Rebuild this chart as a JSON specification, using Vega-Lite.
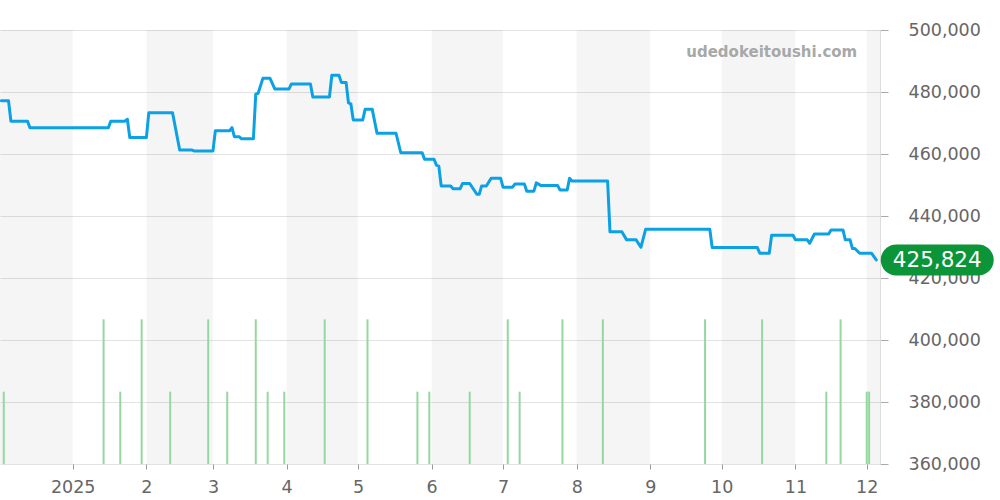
{
  "$schema": "https://vega.github.io/schema/vega-lite/v6.json",
  "width": 880,
  "height": 434,
  "autosize": {"type": "none"},
  "padding": {"left": 0, "top": 30, "right": 120, "bottom": 36},
  "background": "white",
  "config": {"view": {"stroke": null}, "font": "DejaVu Sans"},
  "datasets": {
    "bands": [
      {"start": "2024-11-01", "end": "2025-01-01"},
      {"start": "2025-02-01", "end": "2025-03-01"},
      {"start": "2025-04-01", "end": "2025-05-01"},
      {"start": "2025-06-01", "end": "2025-07-01"},
      {"start": "2025-08-01", "end": "2025-09-01"},
      {"start": "2025-10-01", "end": "2025-11-01"},
      {"start": "2025-12-01", "end": "2026-01-01"}
    ],
    "volume": [
      {"date": "2024-12-03", "vol": 1},
      {"date": "2025-01-14", "vol": 2},
      {"date": "2025-01-21", "vol": 1},
      {"date": "2025-01-30", "vol": 2},
      {"date": "2025-02-11", "vol": 1},
      {"date": "2025-02-27", "vol": 2},
      {"date": "2025-03-07", "vol": 1},
      {"date": "2025-03-19", "vol": 2},
      {"date": "2025-03-24", "vol": 1},
      {"date": "2025-03-31", "vol": 1},
      {"date": "2025-04-17", "vol": 2},
      {"date": "2025-05-05", "vol": 2},
      {"date": "2025-05-26", "vol": 1},
      {"date": "2025-05-31", "vol": 1},
      {"date": "2025-06-17", "vol": 1},
      {"date": "2025-07-03", "vol": 2},
      {"date": "2025-07-08", "vol": 1},
      {"date": "2025-07-26", "vol": 2},
      {"date": "2025-08-12", "vol": 2},
      {"date": "2025-09-24", "vol": 2},
      {"date": "2025-10-18", "vol": 2},
      {"date": "2025-11-14", "vol": 1},
      {"date": "2025-11-20", "vol": 2},
      {"date": "2025-12-01", "vol": 1},
      {"date": "2025-12-02", "vol": 1}
    ],
    "price": [
      {"date": "2024-12-02", "price": 477200},
      {"date": "2024-12-05", "price": 477200},
      {"date": "2024-12-06", "price": 470600},
      {"date": "2024-12-13", "price": 470600},
      {"date": "2024-12-14", "price": 468500},
      {"date": "2025-01-16", "price": 468500},
      {"date": "2025-01-17", "price": 470600},
      {"date": "2025-01-23", "price": 470600},
      {"date": "2025-01-24", "price": 471200},
      {"date": "2025-01-25", "price": 465300},
      {"date": "2025-02-01", "price": 465300},
      {"date": "2025-02-02", "price": 473300},
      {"date": "2025-02-12", "price": 473300},
      {"date": "2025-02-15", "price": 461300},
      {"date": "2025-02-20", "price": 461300},
      {"date": "2025-02-21", "price": 461000},
      {"date": "2025-03-01", "price": 461000},
      {"date": "2025-03-02", "price": 467500},
      {"date": "2025-03-08", "price": 467500},
      {"date": "2025-03-09", "price": 468500},
      {"date": "2025-03-10", "price": 465600},
      {"date": "2025-03-12", "price": 465600},
      {"date": "2025-03-13", "price": 464900},
      {"date": "2025-03-18", "price": 464900},
      {"date": "2025-03-19", "price": 479300},
      {"date": "2025-03-20", "price": 479600},
      {"date": "2025-03-22", "price": 484400},
      {"date": "2025-03-25", "price": 484400},
      {"date": "2025-03-27", "price": 481000},
      {"date": "2025-04-02", "price": 481000},
      {"date": "2025-04-03", "price": 482600},
      {"date": "2025-04-11", "price": 482600},
      {"date": "2025-04-12", "price": 478400},
      {"date": "2025-04-19", "price": 478400},
      {"date": "2025-04-20", "price": 485400},
      {"date": "2025-04-23", "price": 485400},
      {"date": "2025-04-24", "price": 483100},
      {"date": "2025-04-26", "price": 483100},
      {"date": "2025-04-27", "price": 476500},
      {"date": "2025-04-28", "price": 476200},
      {"date": "2025-04-29", "price": 471000},
      {"date": "2025-05-03", "price": 471000},
      {"date": "2025-05-04", "price": 474400},
      {"date": "2025-05-07", "price": 474400},
      {"date": "2025-05-09", "price": 466700},
      {"date": "2025-05-17", "price": 466700},
      {"date": "2025-05-19", "price": 460400},
      {"date": "2025-05-28", "price": 460400},
      {"date": "2025-05-29", "price": 458300},
      {"date": "2025-06-02", "price": 458300},
      {"date": "2025-06-03", "price": 456400},
      {"date": "2025-06-04", "price": 456100},
      {"date": "2025-06-05", "price": 449700},
      {"date": "2025-06-09", "price": 449700},
      {"date": "2025-06-10", "price": 448800},
      {"date": "2025-06-13", "price": 448800},
      {"date": "2025-06-14", "price": 450500},
      {"date": "2025-06-17", "price": 450500},
      {"date": "2025-06-20", "price": 447000},
      {"date": "2025-06-21", "price": 447000},
      {"date": "2025-06-22", "price": 449700},
      {"date": "2025-06-24", "price": 449700},
      {"date": "2025-06-26", "price": 452200},
      {"date": "2025-06-30", "price": 452200},
      {"date": "2025-07-01", "price": 449300},
      {"date": "2025-07-05", "price": 449300},
      {"date": "2025-07-06", "price": 450300},
      {"date": "2025-07-10", "price": 450300},
      {"date": "2025-07-11", "price": 448000},
      {"date": "2025-07-14", "price": 448000},
      {"date": "2025-07-15", "price": 450700},
      {"date": "2025-07-17", "price": 449800},
      {"date": "2025-07-24", "price": 449800},
      {"date": "2025-07-25", "price": 448400},
      {"date": "2025-07-28", "price": 448400},
      {"date": "2025-07-29", "price": 452200},
      {"date": "2025-07-30", "price": 451300},
      {"date": "2025-08-14", "price": 451300},
      {"date": "2025-08-15", "price": 434900},
      {"date": "2025-08-20", "price": 434900},
      {"date": "2025-08-22", "price": 432300},
      {"date": "2025-08-26", "price": 432300},
      {"date": "2025-08-28", "price": 429900},
      {"date": "2025-08-30", "price": 435700},
      {"date": "2025-09-26", "price": 435700},
      {"date": "2025-09-27", "price": 429800},
      {"date": "2025-10-16", "price": 429800},
      {"date": "2025-10-17", "price": 428000},
      {"date": "2025-10-21", "price": 428000},
      {"date": "2025-10-22", "price": 433800},
      {"date": "2025-10-31", "price": 433800},
      {"date": "2025-11-01", "price": 432300},
      {"date": "2025-11-06", "price": 432300},
      {"date": "2025-11-07", "price": 431200},
      {"date": "2025-11-09", "price": 434200},
      {"date": "2025-11-15", "price": 434200},
      {"date": "2025-11-16", "price": 435500},
      {"date": "2025-11-21", "price": 435500},
      {"date": "2025-11-22", "price": 432300},
      {"date": "2025-11-24", "price": 432300},
      {"date": "2025-11-25", "price": 429500},
      {"date": "2025-11-26", "price": 429500},
      {"date": "2025-11-28", "price": 428000},
      {"date": "2025-12-03", "price": 428000},
      {"date": "2025-12-05", "price": 425824}
    ],
    "last": [
      {"date": "2025-12-05", "price": 425824}
    ]
  },
  "resolve": {"scale": {"y": "independent"}},
  "layer": [
    {
      "layer": [
        {
          "data": {"name": "bands"},
          "mark": {"type": "rect", "color": "#000000", "opacity": 0.04, "clip": true},
          "encoding": {
            "x": {"field": "start", "type": "temporal", "scale": {"type": "utc", "domain": [{"year": 2024, "month": 12, "date": 1, "hours": 10, "utc": true}, {"year": 2025, "month": 12, "date": 6, "hours": 14, "utc": true}]},
              "axis": {
                "values": [
                  {"year": 2025, "month": 1, "date": 1, "utc": true},
                  {"year": 2025, "month": 2, "date": 1, "utc": true},
                  {"year": 2025, "month": 3, "date": 1, "utc": true},
                  {"year": 2025, "month": 4, "date": 1, "utc": true},
                  {"year": 2025, "month": 5, "date": 1, "utc": true},
                  {"year": 2025, "month": 6, "date": 1, "utc": true},
                  {"year": 2025, "month": 7, "date": 1, "utc": true},
                  {"year": 2025, "month": 8, "date": 1, "utc": true},
                  {"year": 2025, "month": 9, "date": 1, "utc": true},
                  {"year": 2025, "month": 10, "date": 1, "utc": true},
                  {"year": 2025, "month": 11, "date": 1, "utc": true},
                  {"year": 2025, "month": 12, "date": 1, "utc": true}
                ],
                "labelExpr": "utcmonth(datum.value) == 0 ? utcFormat(datum.value, '%Y') : '' + (utcmonth(datum.value) + 1)",
                "title": null,
                "domain": false,
                "grid": false,
                "tickSize": 5,
                "tickColor": "#999999",
                "labelPadding": 9,
                "labelFontSize": 17.5,
                "labelColor": "#666666",
                "labelFont": "DejaVu Sans",
                "labelFlush": false
              }
            },
            "x2": {"field": "end"}
          }
        },
        {
          "data": {"name": "volume"},
          "mark": {"type": "rule", "color": "#94d89f", "strokeWidth": 2},
          "encoding": {
            "x": {"field": "date", "type": "temporal"},
            "y": {"field": "vol", "type": "quantitative", "scale": {"domain": [0, 6], "nice": false, "zero": true}, "axis": null},
            "y2": {"datum": 0}
          }
        }
      ]
    },
    {
      "layer": [
        {
          "data": {"name": "price"},
          "mark": {"type": "line", "color": "#0ba1e4", "strokeWidth": 3, "strokeJoin": "round", "strokeCap": "round", "clip": true},
          "encoding": {
            "x": {"field": "date", "type": "temporal"},
            "y": {"field": "price", "type": "quantitative",
              "scale": {"domain": [360000, 500000], "nice": false, "zero": false},
              "axis": {
                "orient": "right",
                "values": [360000, 380000, 400000, 420000, 440000, 460000, 480000, 500000],
                "labelExpr": "format(datum.value, ',')",
                "title": null,
                "grid": true,
                "gridColor": "#e2e2e2",
                "gridWidth": 1,
                "domain": true,
                "domainColor": "#dddddd",
                "tickColor": "#aaaaaa",
                "tickSize": 8,
                "labelPadding": 20,
                "labelFontSize": 17.5,
                "labelColor": "#666666",
                "labelFont": "DejaVu Sans",
                "labelFlush": false,
                "labelBaseline": "middle"
              }
            }
          }
        },
        {
          "data": {"values": [{}]},
          "mark": {"type": "text", "align": "right", "baseline": "middle", "fontSize": 15, "fontWeight": "bold", "font": "DejaVu Sans", "color": "#a8a8a8"},
          "encoding": {
            "x": {"datum": {"year": 2025, "month": 11, "date": 27, "utc": true}, "type": "temporal"},
            "y": {"datum": 492800, "type": "quantitative"},
            "text": {"value": "udedokeitoushi.com"}
          }
        },
        {
          "data": {"name": "last"},
          "mark": {"type": "point", "filled": true, "opacity": 1, "color": "#0c9439", "size": 12769, "xOffset": 61, "strokeWidth": 0,
            "shape": "M-0.7257,-0.2743 L0.7257,-0.2743 C0.8772,-0.2743 1,-0.1515 1,0 C1,0.1515 0.8772,0.2743 0.7257,0.2743 L-0.7257,0.2743 C-0.8772,0.2743 -1,0.1515 -1,0 C-1,-0.1515 -0.8772,-0.2743 -0.7257,-0.2743 Z"},
          "encoding": {
            "x": {"field": "date", "type": "temporal"},
            "y": {"field": "price", "type": "quantitative"}
          }
        },
        {
          "data": {"name": "last"},
          "mark": {"type": "text", "align": "center", "baseline": "middle", "dx": 61, "dy": 1, "fontSize": 21.5, "font": "DejaVu Sans", "color": "#ffffff"},
          "encoding": {
            "x": {"field": "date", "type": "temporal"},
            "y": {"field": "price", "type": "quantitative"},
            "text": {"field": "price", "type": "quantitative", "format": ","}
          }
        }
      ]
    }
  ]
}
